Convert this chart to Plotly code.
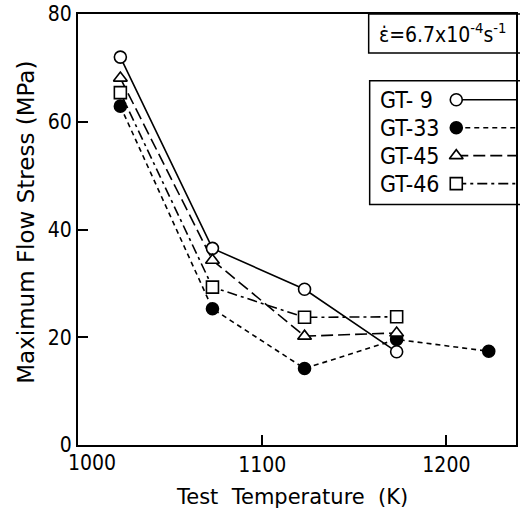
import plotly.graph_objects as go

# ---- data ----
temps = [1023, 1073, 1123, 1173, 1223]
gt9 = [72.0, 36.5, 28.9, 17.3]
gt33 = [62.9, 25.3, 14.2, 19.6, 17.4]
gt45 = [68.1, 34.3, 20.2, 20.8]
gt46 = [65.4, 29.3, 23.7, 23.8]
series_names = ["GT- 9", "GT-33", "GT-45", "GT-46"]
x_ticks = [1000, 1100, 1200]
y_ticks = [0, 20, 40, 60, 80]

FONT = "DejaVu Sans Condensed, Liberation Sans Narrow, Liberation Sans, Arial"
TITLE_FONT = "DejaVu Sans, Liberation Sans, Arial"
BLACK = "black"

# page-pixel -> paper helpers (plot area spans page px x 78..518, y 13..445)
def px(x):
    return (x - 78) / 440.0

def py(y):
    return (445 - y) / 432.0

series = [
    (series_names[0], gt9, "solid", "circle", "white"),
    (series_names[1], gt33, "5px,4px", "circle", BLACK),
    (series_names[2], gt45, "12px,5px", "triangle-up", "white"),
    (series_names[3], gt46, "10px,4px,3px,4px", "square", "white"),
]

fig = go.Figure()

for name, vals, dash, sym, fill in series:
    fig.add_trace(go.Scatter(
        x=temps[:len(vals)], y=vals, mode="lines",
        line=dict(color=BLACK, width=1.6, dash=dash),
        showlegend=False, hoverinfo="skip"))
for name, vals, dash, sym, fill in series:
    fig.add_trace(go.Scatter(
        x=temps[:len(vals)], y=vals, mode="markers", name=name,
        marker=dict(symbol=sym, size=12, color=fill, line=dict(color=BLACK, width=1.6)),
        showlegend=False, cliponaxis=False))

# ---- hand-drawn style legend on a pixel-coordinate overlay axis ----
legend_rows = [99, 127, 155, 183]
for (name, vals, dash, sym, fill), ry in zip(series, legend_rows):
    fig.add_trace(go.Scatter(
        x=[458, 540], y=[ry, ry], xaxis="x2", yaxis="y2", mode="lines",
        line=dict(color=BLACK, width=1.6, dash=dash),
        showlegend=False, hoverinfo="skip", cliponaxis=False))
    fig.add_trace(go.Scatter(
        x=[458], y=[ry], xaxis="x2", yaxis="y2", mode="markers",
        marker=dict(symbol=sym, size=12, color=fill, line=dict(color=BLACK, width=1.6)),
        showlegend=False, hoverinfo="skip", cliponaxis=False))
    fig.add_annotation(x=px(379), y=py(ry), xref="paper", yref="paper", text=name,
                       showarrow=False, xanchor="left", yanchor="middle",
                       font=dict(family=FONT, size=23, color=BLACK))

fig.add_shape(type="rect", xref="paper", yref="paper", x0=px(371), x1=px(540),
              y0=py(80), y1=py(204), line=dict(color=BLACK, width=1.5))
fig.add_shape(type="rect", xref="paper", yref="paper", x0=px(370), x1=px(540),
              y0=py(13), y1=py(52), line=dict(color=BLACK, width=1.5))
fig.add_annotation(x=px(445), y=py(32), xref="paper", yref="paper",
                   text="\u03b5\u0307=6.7x10<sup>-4</sup>s<sup>-1</sup>", showarrow=False,
                   xanchor="center", yanchor="middle",
                   font=dict(family=FONT, size=21, color=BLACK))

# axis titles and the offset '1000' label
fig.add_annotation(x=px(25), y=py(222), xref="paper", yref="paper",
                   text="Maximum Flow Stress (MPa)", textangle=-90, showarrow=False,
                   xanchor="center", yanchor="middle",
                   font=dict(family=TITLE_FONT, size=23, color=BLACK))
fig.add_annotation(x=px(293), y=py(497), xref="paper", yref="paper",
                   text="Test  Temperature  (K)", showarrow=False,
                   xanchor="center", yanchor="middle",
                   font=dict(family=TITLE_FONT, size=21, color=BLACK))
fig.add_annotation(x=px(92), y=py(463), xref="paper", yref="paper", text=str(x_ticks[0]),
                   showarrow=False, xanchor="center", yanchor="middle",
                   font=dict(family=FONT, size=21, color=BLACK))

fig.update_layout(
    width=520, height=509,
    margin=dict(l=78, r=2, t=13, b=64),
    paper_bgcolor="white", plot_bgcolor="white",
    font=dict(family=FONT, size=21, color=BLACK),
    xaxis=dict(range=[1000, 1237.8], tickvals=x_ticks,
               ticktext=[""] + [str(v) for v in x_ticks[1:]],
               ticks="inside", ticklen=10, tickwidth=1.5, tickcolor=BLACK,
               showline=True, linecolor=BLACK, linewidth=2, mirror=True,
               showgrid=False, zeroline=False, fixedrange=True,
               ticklabeloverflow="allow"),
    yaxis=dict(range=[0, 80], tickvals=y_ticks,
               ticks="inside", ticklen=10, tickwidth=1.5, tickcolor=BLACK,
               showline=True, linecolor=BLACK, linewidth=2, mirror=True,
               showgrid=False, zeroline=False, fixedrange=True,
               ticklabeloverflow="allow"),
    xaxis2=dict(range=[78, 518], overlaying="x", anchor="y2", visible=False,
                fixedrange=True),
    yaxis2=dict(range=[445, 13], overlaying="y", anchor="x2", visible=False,
                fixedrange=True),
    showlegend=False,
)

fig.write_html("out.html", config={"displayModeBar": False},
               post_script="document.body.style.margin='0';document.body.style.padding='0';")
